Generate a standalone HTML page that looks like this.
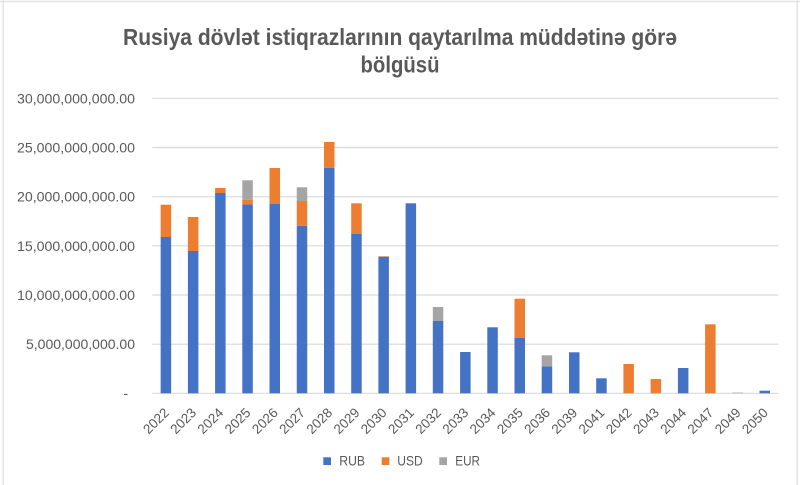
<!DOCTYPE html>
<html><head><meta charset="utf-8"><style>
html,body{margin:0;padding:0;background:#fff;}
svg{display:block;}
text{font-family:"Liberation Sans",Arial,sans-serif;fill:#595959;}
</style></head><body>
<svg width="800" height="485" viewBox="0 0 800 485" xmlns="http://www.w3.org/2000/svg">
<rect x="0" y="0" width="800" height="485" fill="#fff"/>
<line x1="0" y1="1.5" x2="800" y2="1.5" stroke="#e3e3e3" stroke-width="1.5"/>
<line x1="3.2" y1="0" x2="3.2" y2="485" stroke="#e3e3e3" stroke-width="1.5"/>
<line x1="797.2" y1="0" x2="797.2" y2="485" stroke="#e3e3e3" stroke-width="1.5"/>

<text x="400" y="45" text-anchor="middle" font-size="23" font-weight="bold" textLength="554" lengthAdjust="spacingAndGlyphs">Rusiya dövlət istiqrazlarının qaytarılma müddətinə görə</text>
<text x="400" y="72.7" text-anchor="middle" font-size="23" font-weight="bold" textLength="79" lengthAdjust="spacingAndGlyphs">bölgüsü</text>

<g stroke="#d9d9d9" stroke-width="1.2">
<line x1="152.3" y1="98.3" x2="778.3" y2="98.3"/>
<line x1="152.3" y1="147.5" x2="778.3" y2="147.5"/>
<line x1="152.3" y1="196.7" x2="778.3" y2="196.7"/>
<line x1="152.3" y1="245.8" x2="778.3" y2="245.8"/>
<line x1="152.3" y1="295" x2="778.3" y2="295"/>
<line x1="152.3" y1="344.2" x2="778.3" y2="344.2"/>
<line x1="152.3" y1="393.3" x2="778.3" y2="393.3"/>
</g>

<g font-size="14" text-anchor="end">
<text x="135" y="103.3" textLength="118" lengthAdjust="spacingAndGlyphs">30,000,000,000.00</text>
<text x="135" y="152.5" textLength="118" lengthAdjust="spacingAndGlyphs">25,000,000,000.00</text>
<text x="135" y="201.7" textLength="118" lengthAdjust="spacingAndGlyphs">20,000,000,000.00</text>
<text x="135" y="250.8" textLength="118" lengthAdjust="spacingAndGlyphs">15,000,000,000.00</text>
<text x="135" y="300" textLength="118" lengthAdjust="spacingAndGlyphs">10,000,000,000.00</text>
<text x="135" y="349.2" textLength="109" lengthAdjust="spacingAndGlyphs">5,000,000,000.00</text>
<text x="128" y="398">-</text>
</g>

<!-- RUB -->
<g fill="#4472C4">
<rect x="160.65" y="237" width="10.5" height="156.3"/>
<rect x="187.9" y="251" width="10.5" height="142.3"/>
<rect x="215.1" y="193" width="10.5" height="200.3"/>
<rect x="242.3" y="204.3" width="10.5" height="189"/>
<rect x="269.5" y="204" width="10.5" height="189.3"/>
<rect x="296.75" y="225.7" width="10.5" height="167.6"/>
<rect x="324" y="167.7" width="10.5" height="225.6"/>
<rect x="351.2" y="234" width="10.5" height="159.3"/>
<rect x="378.4" y="256.7" width="10.5" height="136.6"/>
<rect x="405.6" y="203.3" width="10.5" height="190"/>
<rect x="432.8" y="321" width="10.5" height="72.3"/>
<rect x="460.1" y="352" width="10.5" height="41.3"/>
<rect x="487.3" y="327.3" width="10.5" height="66"/>
<rect x="514.5" y="337.7" width="10.5" height="55.6"/>
<rect x="541.7" y="366.3" width="10.5" height="27"/>
<rect x="569" y="352.3" width="10.5" height="41"/>
<rect x="596.2" y="378.3" width="10.5" height="15"/>
<rect x="677.9" y="368" width="10.5" height="25.3"/>
<rect x="759.5" y="390.7" width="10.5" height="2.6"/>
</g>
<!-- USD -->
<g fill="#ED7D31">
<rect x="160.65" y="204.7" width="10.5" height="32.3"/>
<rect x="187.9" y="217" width="10.5" height="34"/>
<rect x="215.1" y="188" width="10.5" height="5"/>
<rect x="242.3" y="199.7" width="10.5" height="4.6"/>
<rect x="269.5" y="168" width="10.5" height="36"/>
<rect x="296.75" y="201" width="10.5" height="24.7"/>
<rect x="324" y="142" width="10.5" height="25.7"/>
<rect x="351.2" y="203.3" width="10.5" height="30.7"/>
<rect x="378.4" y="256.2" width="10.5" height="0.5"/>
<rect x="514.5" y="298.7" width="10.5" height="39"/>
<rect x="623.4" y="364" width="10.5" height="29.3"/>
<rect x="650.6" y="379" width="10.5" height="14.3"/>
<rect x="705.1" y="324.3" width="10.5" height="69"/>
</g>
<!-- EUR -->
<g fill="#A5A5A5">
<rect x="242.3" y="180.3" width="10.5" height="19.4"/>
<rect x="296.75" y="187.3" width="10.5" height="13.7"/>
<rect x="432.8" y="307" width="10.5" height="14"/>
<rect x="541.7" y="355.3" width="10.5" height="11"/>
<rect x="732.3" y="392.6" width="10.5" height="0.7"/>
</g>

<g font-size="13.5" text-anchor="end">
<text transform="translate(169.9,413.5) rotate(-45)">2022</text>
<text transform="translate(197.1,413.5) rotate(-45)">2023</text>
<text transform="translate(224.3,413.5) rotate(-45)">2024</text>
<text transform="translate(251.5,413.5) rotate(-45)">2025</text>
<text transform="translate(278.8,413.5) rotate(-45)">2026</text>
<text transform="translate(306,413.5) rotate(-45)">2027</text>
<text transform="translate(333.2,413.5) rotate(-45)">2028</text>
<text transform="translate(360.4,413.5) rotate(-45)">2029</text>
<text transform="translate(387.6,413.5) rotate(-45)">2030</text>
<text transform="translate(414.9,413.5) rotate(-45)">2031</text>
<text transform="translate(442.1,413.5) rotate(-45)">2032</text>
<text transform="translate(469.3,413.5) rotate(-45)">2033</text>
<text transform="translate(496.5,413.5) rotate(-45)">2034</text>
<text transform="translate(523.8,413.5) rotate(-45)">2035</text>
<text transform="translate(551,413.5) rotate(-45)">2036</text>
<text transform="translate(578.2,413.5) rotate(-45)">2039</text>
<text transform="translate(605.4,413.5) rotate(-45)">2041</text>
<text transform="translate(632.7,413.5) rotate(-45)">2042</text>
<text transform="translate(659.9,413.5) rotate(-45)">2043</text>
<text transform="translate(687.1,413.5) rotate(-45)">2044</text>
<text transform="translate(714.3,413.5) rotate(-45)">2047</text>
<text transform="translate(741.6,413.5) rotate(-45)">2049</text>
<text transform="translate(768.8,413.5) rotate(-45)">2050</text>
</g>

<rect x="323.3" y="457.3" width="7.7" height="7.7" fill="#4472C4"/>
<text x="339.3" y="465.5" font-size="13.5" textLength="25.7" lengthAdjust="spacingAndGlyphs">RUB</text>
<rect x="381.7" y="457.3" width="7.7" height="7.7" fill="#ED7D31"/>
<text x="397.3" y="465.5" font-size="13.5" textLength="25.4" lengthAdjust="spacingAndGlyphs">USD</text>
<rect x="439.3" y="457.3" width="7.7" height="7.7" fill="#A5A5A5"/>
<text x="455.3" y="465.5" font-size="13.5" textLength="24.7" lengthAdjust="spacingAndGlyphs">EUR</text>
</svg>
</body></html>
